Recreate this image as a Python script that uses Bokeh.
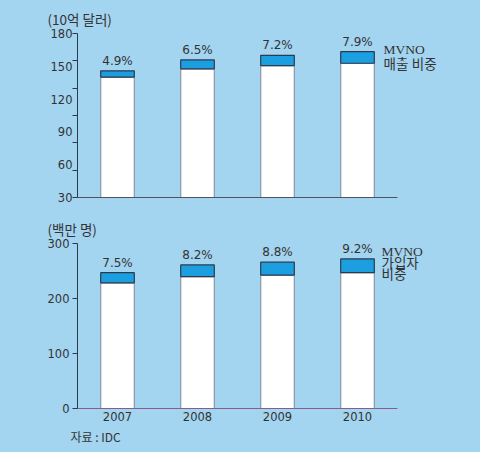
from bokeh.plotting import figure
from bokeh.layouts import column
from bokeh.models import (ColumnDataSource, Range1d, FactorRange, LinearAxis,
                          CategoricalAxis, FixedTicker, LabelSet, Title)
from bokeh.core.properties import value
from bokeh.embed import file_html
from bokeh.resources import INLINE

# ---- data -------------------------------------------------------------
years = ["2007", "2008", "2009", "2010"]

# market revenue (billion USD) and MVNO share of revenue (%)
revenue_total = [139, 151, 156, 160]
revenue_share = [4.9, 6.5, 7.2, 7.9]
revenue_ticks = [0, 30, 60, 90, 120, 150, 180]
revenue_tick_labels = [30, 60, 90, 120, 150, 180]

# subscribers (millions) and MVNO share of subscribers (%)
subs_total = [247, 261, 266, 272]
subs_share = [7.5, 8.2, 8.8, 9.2]
subs_ticks = [0, 100, 200, 300]

# side captions, keyed by the value height they sit at
revenue_caption = {162: "MVNO", 146: "매출 비중"}
subs_caption = {285: "MVNO", 264: "가입자", 243: "비중"}

# ---- style ------------------------------------------------------------
BG = "#a3d4f0"
MVNO_BLUE = "#1c9fe0"
DARK = "#2c3a4c"
TEXT = "#333333"
NUM_FONT = "DejaVu Sans"
KR_FONT = "Noto Sans CJK KR"
CAPTION_FONT = "'Liberation Serif', 'Noto Sans CJK KR'"
W = 480


def make_source(totals, shares):
    base = [t * (1 - s / 100) for t, s in zip(totals, shares)]
    return ColumnDataSource(dict(
        year=years,
        zero=[0] * len(years),
        base=base,
        total=totals,
        share_text=[f"{s:.1f}%" for s in shares],
    ))


def base_figure(height, y_end, top, bottom, right):
    p = figure(x_range=FactorRange(*years), y_range=Range1d(0, y_end),
               width=W, height=height, output_backend="svg",
               toolbar_location=None, min_border_left=77,
               min_border_right=right, min_border_top=top,
               min_border_bottom=bottom)
    p.background_fill_color = BG
    p.border_fill_color = BG
    p.outline_line_color = None
    p.xgrid.grid_line_color = None
    p.ygrid.grid_line_color = None
    p.x_range.range_padding = 0
    return p


def draw_bars(p, src):
    p.vbar(x="year", bottom="zero", top="base", width=0.42, source=src,
           fill_color="white", line_color="#8a97a6", line_width=1.2)
    p.vbar(x="year", bottom="base", top="total", width=0.42, source=src,
           fill_color=MVNO_BLUE, line_color=DARK, line_width=1.2)
    p.add_layout(LabelSet(x="year", y="total", text="share_text", source=src,
                          text_align="center", text_baseline="bottom",
                          y_offset=3, text_font=value(NUM_FONT),
                          text_font_size=value("12px"), text_color=TEXT))


def style_y(axis):
    axis.axis_line_color = DARK
    axis.major_tick_line_color = DARK
    axis.major_tick_in = 0
    axis.major_tick_out = 5
    axis.minor_tick_line_color = None
    axis.major_label_text_font = NUM_FONT
    axis.major_label_text_font_size = "11.5px"
    axis.major_label_text_color = TEXT


def unit_title(p, txt):
    t = Title(text=txt, align="left", offset=-30, standoff=9,
              text_font=KR_FONT, text_font_size="13.5px",
              text_font_style="normal", text_color=TEXT)
    p.add_layout(t, "above")


def caption_axis(p, captions, standoff):
    ax = LinearAxis(ticker=FixedTicker(ticks=list(captions)))
    ax.major_label_overrides = captions
    ax.axis_line_color = None
    ax.major_tick_line_color = None
    ax.minor_tick_line_color = None
    ax.major_tick_out = 0
    ax.major_label_standoff = standoff
    ax.major_label_text_font = CAPTION_FONT
    ax.major_label_text_font_size = "13.5px"
    ax.major_label_text_color = TEXT
    p.add_layout(ax, "right")


# ---- top chart: revenue ------------------------------------------------
top_src = make_source(revenue_total, revenue_share)
p1 = base_figure(208, 180, top=33, bottom=11, right=83)
draw_bars(p1, top_src)

# plain baseline without year labels
p1.xaxis.visible = False
p1.extra_x_ranges = {"base": FactorRange(" ")}
base_axis = CategoricalAxis(x_range_name="base")
base_axis.axis_line_color = "#4a5560"
base_axis.major_tick_line_color = None
base_axis.minor_tick_line_color = None
base_axis.major_tick_out = 0
base_axis.major_label_standoff = 0
base_axis.major_label_text_font_size = "1px"
p1.add_layout(base_axis, "below")

style_y(p1.yaxis)
p1.yaxis.ticker = FixedTicker(ticks=revenue_ticks)
p1.yaxis.major_label_overrides = {t: "" for t in revenue_ticks}
p1.yaxis.major_label_standoff = 0

p1.extra_y_ranges = {"lbl": Range1d(30, 180)}
lbl_axis = LinearAxis(y_range_name="lbl",
                      ticker=FixedTicker(ticks=revenue_tick_labels))
lbl_axis.axis_line_color = None
lbl_axis.major_tick_line_color = None
lbl_axis.minor_tick_line_color = None
lbl_axis.major_tick_out = 0
lbl_axis.major_label_standoff = 0
lbl_axis.major_label_text_font = NUM_FONT
lbl_axis.major_label_text_font_size = "11.5px"
lbl_axis.major_label_text_color = TEXT
p1.add_layout(lbl_axis, "left")

unit_title(p1, "(10억 달러)")
caption_axis(p1, revenue_caption, -14)

# ---- bottom chart: subscribers ---------------------------------------
bot_src = make_source(subs_total, subs_share)
p2 = base_figure(244, 300, top=35, bottom=44, right=80)
draw_bars(p2, bot_src)

p2.xaxis.axis_line_color = "#8a5b8e"
p2.xaxis.major_tick_line_color = None
p2.xaxis.minor_tick_line_color = None
p2.xaxis.major_tick_out = 0
p2.xaxis.major_label_standoff = 3
p2.xaxis.major_label_text_font = NUM_FONT
p2.xaxis.major_label_text_font_size = "11.5px"
p2.xaxis.major_label_text_color = TEXT

style_y(p2.yaxis)
p2.yaxis.ticker = FixedTicker(ticks=subs_ticks)
p2.yaxis.major_label_standoff = 3

unit_title(p2, "(백만 명)")
caption_axis(p2, subs_caption, -16)

source_note = Title(text="자료 : IDC", align="left", offset=-7, standoff=4,
                    text_font=KR_FONT, text_font_size="12px",
                    text_font_style="normal", text_color=TEXT)
p2.add_layout(source_note, "below")

layout = column(p1, p2, spacing=0)
layout.styles = {"background-color": BG}

open("out.html", "w").write(file_html(layout, INLINE))
